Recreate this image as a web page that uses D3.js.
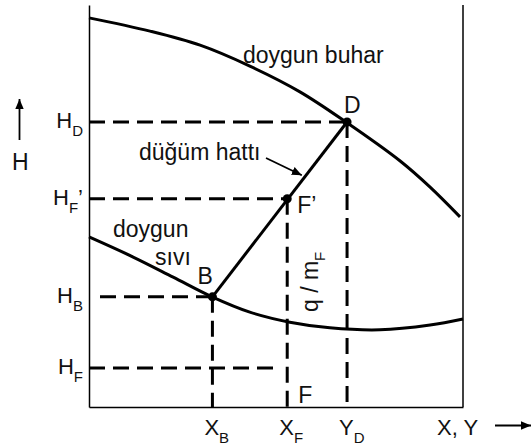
<!DOCTYPE html>
<html>
<head>
<meta charset="utf-8">
<script src="https://cdn.jsdelivr.net/npm/d3@7"></script>
<style>
  html, body { margin: 0; padding: 0; background: #fff; }
  text { font-family: "Liberation Sans", Arial, Helvetica, sans-serif; fill: #111; }
</style>
</head>
<body>
<svg id="chart" width="532" height="447"></svg>
<script>
// Saturated vapour curve (composition y, enthalpy H)
const vaporX = [0, 0.163, 0.297, 0.430, 0.564, 0.687, 0.832, 0.912, 0.992];
const vaporH = [96.8, 93.5, 90.0, 84.8, 78.4, 70.9, 61.2, 54.7, 47.3];

// Saturated liquid curve (composition x, enthalpy H)
const liquidX = [0, 0.118, 0.225, 0.329, 0.430, 0.537, 0.644, 0.778, 0.912, 1.0];
const liquidH = [42.3, 37.3, 32.3, 27.4, 23.6, 21.1, 19.7, 19.2, 20.4, 21.9];

// States on the tie line: liquid B, mixed feed F', vapour D
const pointNames = ["B", "F’", "D"];
const pointX = [0.33, 0.53, 0.69];
const pointH = [27.4, 51.8, 70.9];

// Feed state F
const feedX = 0.53;
const feedH = 9.7;

// Enthalpy tick labels (main letter, subscript, suffix)
const hTickValues = [70.9, 51.8, 27.4, 9.7];
const hTickMain = ["H", "H", "H", "H"];
const hTickSub = ["D", "F", "B", "F"];
const hTickSuffix = ["", "’", "", ""];

// Composition tick labels
const xTickValues = [0.33, 0.53, 0.69];
const xTickMain = ["X", "X", "Y"];
const xTickSub = ["B", "F", "D"];

const svg = d3.select("#chart");
const x = d3.scaleLinear().domain([0, 1]).range([89, 463]);
const y = d3.scaleLinear().domain([0, 100]).range([407, 5]);

const ink = "#000";
const dash = "16,8";

// Frame: left and bottom axes without ticks, plus right border
svg.append("g").attr("transform", `translate(${x(0)},0)`)
  .call(d3.axisLeft(y).tickValues([]).tickSizeOuter(0))
  .select(".domain").attr("stroke", ink).attr("stroke-width", 1.5);
svg.append("g").attr("transform", `translate(0,${y(0)})`)
  .call(d3.axisBottom(x).tickValues([]).tickSizeOuter(0))
  .select(".domain").attr("stroke", ink).attr("stroke-width", 1.5);
svg.append("line")
  .attr("x1", x(1)).attr("x2", x(1)).attr("y1", y(100)).attr("y2", y(0))
  .attr("stroke", ink).attr("stroke-width", 1.5);

const guides = svg.append("g").attr("stroke", ink).attr("stroke-width", 3)
  .attr("stroke-dasharray", dash).attr("fill", "none");

// Horizontal guides from the H axis to each state
const [bX, fpX, dX] = pointX;
const [bH, fpH, dH] = pointH;
guides.append("line").attr("x1", x(0)).attr("x2", x(dX)).attr("y1", y(dH)).attr("y2", y(dH));
guides.append("line").attr("x1", x(0)).attr("x2", x(fpX)).attr("y1", y(fpH)).attr("y2", y(fpH));
guides.append("line").attr("x1", x(0) + 11).attr("x2", x(bX)).attr("y1", y(bH)).attr("y2", y(bH));
guides.append("line").attr("x1", x(0)).attr("x2", x(feedX) - 7).attr("y1", y(feedH)).attr("y2", y(feedH));

// Vertical guides down to the composition axis
guides.append("line").attr("x1", x(bX)).attr("x2", x(bX)).attr("y1", y(bH)).attr("y2", y(0));
guides.append("line").attr("x1", x(fpX)).attr("x2", x(fpX)).attr("y1", y(fpH)).attr("y2", y(0));
guides.append("line").attr("x1", x(dX)).attr("x2", x(dX)).attr("y1", y(dH)).attr("y2", y(0));

// Saturation curves
const curve = d3.line().x(d => x(d[0])).y(d => y(d[1])).curve(d3.curveCatmullRom.alpha(0.5));
svg.append("path").attr("d", curve(d3.zip(vaporX, vaporH)))
  .attr("fill", "none").attr("stroke", ink).attr("stroke-width", 3);
svg.append("path").attr("d", curve(d3.zip(liquidX, liquidH)))
  .attr("fill", "none").attr("stroke", ink).attr("stroke-width", 3);

// Tie line B–D
svg.append("line")
  .attr("x1", x(bX)).attr("y1", y(bH)).attr("x2", x(dX)).attr("y2", y(dH))
  .attr("stroke", ink).attr("stroke-width", 3);

// State points
svg.append("g").selectAll("circle").data(d3.zip(pointX, pointH)).join("circle")
  .attr("cx", d => x(d[0])).attr("cy", d => y(d[1])).attr("r", 4.5).attr("fill", ink);

// Arrow marker
const defs = svg.append("defs");
defs.append("marker").attr("id", "arrow").attr("viewBox", "0 0 10 10")
  .attr("refX", 10).attr("refY", 5).attr("markerWidth", 10).attr("markerHeight", 10)
  .attr("markerUnits", "userSpaceOnUse").attr("orient", "auto")
  .append("path").attr("d", "M0,0.8 L10,5 L0,9.2 Z").attr("fill", ink);

// Point labels
const labelOffsets = [[-15, -13], [10, 14], [-3, -9]];
svg.append("g").selectAll("text").data(pointNames).join("text")
  .attr("x", (d, i) => x(pointX[i]) + labelOffsets[i][0])
  .attr("y", (d, i) => y(pointH[i]) + labelOffsets[i][1])
  .attr("font-size", 23)
  .text(d => d);
svg.append("text").attr("x", x(feedX) + 11).attr("y", y(0) - 4)
  .attr("font-size", 23).text("F");

// Enthalpy labels
hTickValues.forEach((v, i) => {
  const t = svg.append("text").attr("x", x(0) - 6).attr("y", y(v) + 6)
    .attr("text-anchor", "end").attr("font-size", 22);
  t.append("tspan").text(hTickMain[i]);
  t.append("tspan").attr("font-size", 15).attr("dy", 8).text(hTickSub[i]);
  if (hTickSuffix[i]) t.append("tspan").attr("dy", -8).attr("font-size", 22).text(hTickSuffix[i]);
});

// Composition labels
xTickValues.forEach((v, i) => {
  const t = svg.append("text").attr("x", x(v) - 8).attr("y", 435).attr("font-size", 22);
  t.append("tspan").text(xTickMain[i]);
  t.append("tspan").attr("font-size", 15).attr("dy", 8).text(xTickSub[i]);
});

// Axis titles with arrows
svg.append("text").attr("x", 12).attr("y", 170).attr("font-size", 23).text("H");
svg.append("line").attr("x1", 19.5).attr("x2", 19.5).attr("y1", 140).attr("y2", 99)
  .attr("stroke", ink).attr("stroke-width", 1.8).attr("marker-end", "url(#arrow)");
svg.append("text").attr("x", 437).attr("y", 435).attr("font-size", 22).text("X, Y");
svg.append("line").attr("x1", 495).attr("x2", 531).attr("y1", 425.5).attr("y2", 425.5)
  .attr("stroke", ink).attr("stroke-width", 1.8).attr("marker-end", "url(#arrow)");

// Curve names
svg.append("text").attr("x", 243).attr("y", 63).attr("font-size", 23).text("doygun buhar");
svg.append("text").attr("x", 113).attr("y", 237).attr("font-size", 23).text("doygun");
svg.append("text").attr("x", 155).attr("y", 265).attr("font-size", 23).text("sıvı");

// Tie-line name with pointer
svg.append("text").attr("x", 139).attr("y", 160).attr("font-size", 23).text("düğüm hattı");
const tipT = 0.69;
const tipX = x(bX) + (x(dX) - x(bX)) * tipT - 3.5;
const tipY = y(bH) + (y(dH) - y(bH)) * tipT - 1;
svg.append("line").attr("x1", 266).attr("y1", 158).attr("x2", tipX).attr("y2", tipY)
  .attr("stroke", ink).attr("stroke-width", 1.8).attr("marker-end", "url(#arrow)");

// Heat input per unit feed, along the F–F' segment
const q = svg.append("text").attr("transform", "translate(318,312) rotate(-90)").attr("font-size", 23);
q.append("tspan").text("q / m");
q.append("tspan").attr("font-size", 15).attr("dy", 7).text("F");
</script>
</body>
</html>
